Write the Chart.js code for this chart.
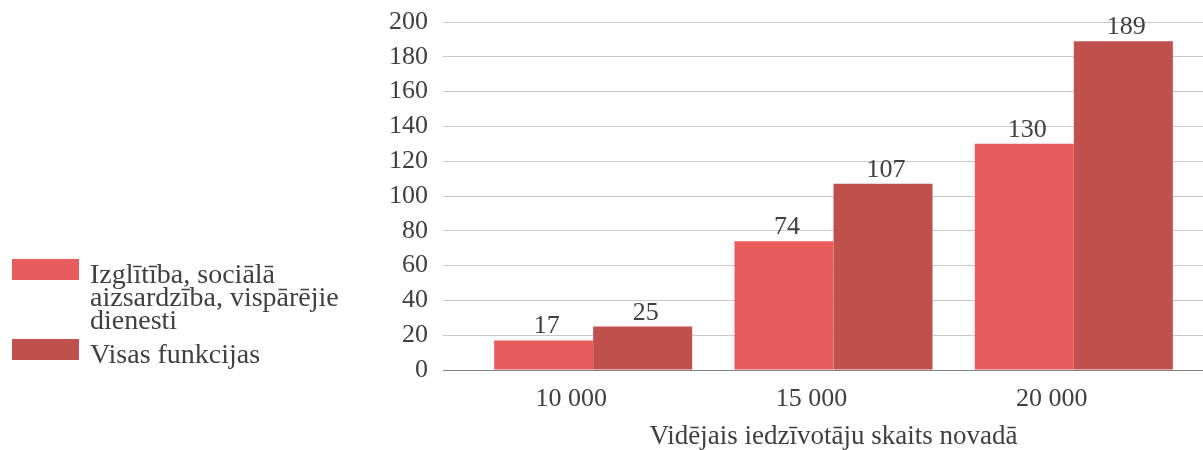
<!DOCTYPE html>
<html lang="lv">
<head>
<meta charset="utf-8">
<script src="https://cdn.jsdelivr.net/npm/chart.js@4.4.1/dist/chart.umd.min.js"></script>
<style>
  body { margin: 0; background: #fff; }
  #wrap { position: relative; width: 1203px; height: 450px; }
  #legend {
    position: absolute; left: 12px; top: 262px;
    font-family: "Liberation Serif", "Times New Roman", serif;
    font-size: 28px; line-height: 23px; color: #404040;
  }
  #legend .item { display: flex; align-items: flex-start; margin-bottom: 11px; }
  #legend .box { width: 67px; height: 21px; margin-top: -3px; margin-right: 11px; flex: none; }
  #legend .txt { width: 258px; }
</style>
</head>
<body>
<div id="wrap">
  <canvas id="chart" width="1203" height="450"></canvas>
  <div id="legend"></div>
</div>
<script>
// Dati no attēla: vidējie izdevumi pēc novada iedzīvotāju skaita
const categories = ["10 000", "15 000", "20 000"];
const eduSocial = [17, 74, 130];
const allFunctions = [25, 107, 189];
const seriesNames = ["Izglītība, sociālā aizsardzība, vispārējie dienesti", "Visas funkcijas"];
const yTicks = { min: 0, max: 200, step: 20 };
const axisTitle = "Vidējais iedzīvotāju skaits novadā";

const COLORS = { light: "#E95C5C", dark: "#C0504D", text: "#404040", grid: "#C8C8C8", axis: "#808080" };
const FONT = "'Liberation Serif', 'Times New Roman', serif";

Chart.defaults.font.family = FONT;
Chart.defaults.font.size = 26;
Chart.defaults.color = COLORS.text;

const gridColor = (ctx) => (ctx.tick && ctx.tick.value === 0 ? COLORS.axis : COLORS.grid);

// vērtības virs stabiņiem
const valueLabels = {
  id: "valueLabels",
  afterDatasetsDraw(chart) {
    const ctx = chart.ctx;
    ctx.save();
    ctx.font = `26px ${FONT}`;
    ctx.fillStyle = COLORS.text;
    ctx.textAlign = "center";
    ctx.textBaseline = "alphabetic";
    chart.data.datasets.forEach((ds, i) => {
      chart.getDatasetMeta(i).data.forEach((bar, j) => {
        ctx.fillText(String(ds.data[j]), bar.x + 3, bar.y - 7);
      });
    });
    ctx.restore();
  },
};

// fiksēts ass izmērs, lai zīmēšanas laukums sakristu ar oriģinālu
function fixY(scale) {
  scale.width = 85;
  scale.paddingTop = 0;
  scale.paddingBottom = 0;
}

const chart = new Chart(document.getElementById("chart"), {
  type: "bar",
  data: {
    labels: categories,
    datasets: [
      { label: seriesNames[0], data: eduSocial, backgroundColor: COLORS.light },
      { label: seriesNames[1], data: allFunctions, backgroundColor: COLORS.dark },
    ],
  },
  options: {
    responsive: false,
    animation: false,
    devicePixelRatio: 1,
    layout: { padding: { left: 388, top: 22, right: 0, bottom: 0 } },
    datasets: { bar: { categoryPercentage: 0.824, barPercentage: 1.0 } },
    plugins: { legend: { display: false }, tooltip: { enabled: false } },
    scales: {
      x: {
        grid: { display: false },
        border: { display: false },
        ticks: { padding: 7, labelOffset: -22, font: { size: 26, lineHeight: 1.1 } },
        title: { display: true, text: axisTitle, font: { size: 27, lineHeight: 1.0 }, padding: { top: 0, bottom: 0 } },
        afterFit: (scale) => { scale.height = 80; },
      },
      y: {
        min: yTicks.min,
        max: yTicks.max,
        border: { display: false },
        grid: { color: gridColor, tickColor: gridColor, tickLength: 30 },
        ticks: { stepSize: yTicks.step, autoSkip: false, padding: 15, font: { size: 26 } },
        afterFit: fixY,
      },
      yR: {
        position: "right",
        min: yTicks.min,
        max: yTicks.max,
        border: { display: false },
        grid: { drawOnChartArea: false, color: gridColor, tickColor: gridColor, tickLength: 9 },
        ticks: { stepSize: yTicks.step, autoSkip: false, display: false },
        afterFit: (scale) => { scale.paddingTop = 0; scale.paddingBottom = 0; },
      },
    },
  },
  plugins: [valueLabels],
});

// leģenda kā HTML, lai teksts lauztos vairākās rindās
const legend = document.getElementById("legend");
chart.data.datasets.forEach((ds) => {
  const item = document.createElement("div");
  item.className = "item";
  const box = document.createElement("span");
  box.className = "box";
  box.style.background = ds.backgroundColor;
  const txt = document.createElement("span");
  txt.className = "txt";
  txt.textContent = ds.label;
  item.append(box, txt);
  legend.appendChild(item);
});
</script>
</body>
</html>
